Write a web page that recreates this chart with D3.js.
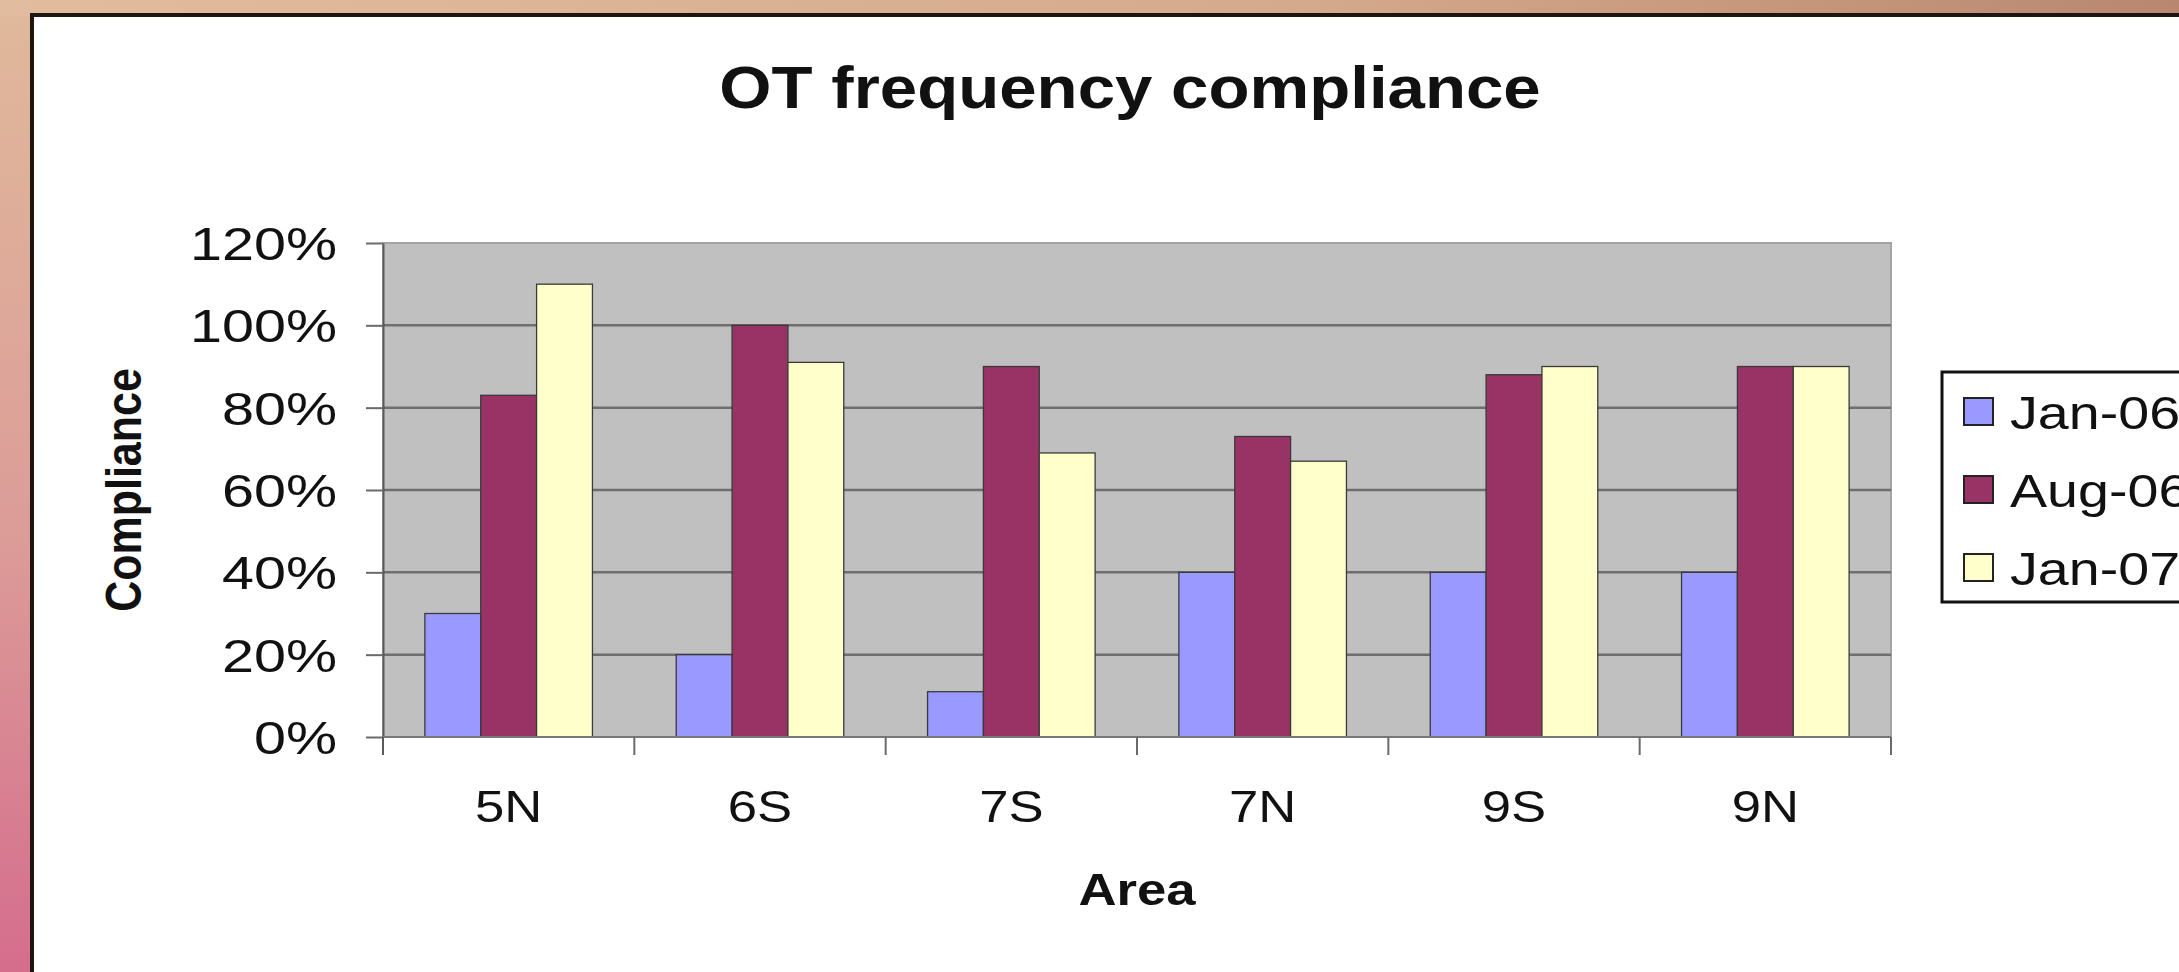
<!DOCTYPE html>
<html>
<head>
<meta charset="utf-8">
<script src="https://cdn.jsdelivr.net/npm/d3@7"></script>
<style>
    body { margin: 0; background: #fff; }
    svg { display: block; }
    text { font-family: "Liberation Sans", Arial, sans-serif; fill: #111; }
</style>
</head>
<body>
<script>

// chart data
const categories = ['5N', '6S', '7S', '7N', '9S', '9N'];
const seriesNames = ['Jan-06', 'Aug-06', 'Jan-07'];
const jan06 = [0.30, 0.20, 0.11, 0.40, 0.40, 0.40];
const aug06 = [0.83, 1.00, 0.90, 0.73, 0.88, 0.90];
const jan07 = [1.10, 0.91, 0.69, 0.67, 0.90, 0.90];
const seriesColors = ['#9999ff', '#993366', '#ffffcc'];
const yTicks = [0, 0.2, 0.4, 0.6, 0.8, 1.0, 1.2];

const chartTitle = 'OT frequency compliance';
const xTitle = 'Area';
const yTitle = 'Compliance';

var width = 2179;
var height = 972;

// the slide picture is stretched sideways a bit, text too
const SX = 1.17;
const SX_TICK = 1.25;
const SX_LEGEND = 1.21;

var plot = { left: 383, right: 1891, top: 243, bottom: 737 };

var svg = d3.select('body').append('svg')
    .attr('width', width)
    .attr('height', height);

// slide background behind the white chart box
var defs = svg.append('defs');
var bgGrad = defs.append('linearGradient')
    .attr('id', 'bg')
    .attr('x1', 0).attr('y1', 0).attr('x2', 0).attr('y2', 1);
bgGrad.append('stop').attr('offset', '0%').attr('stop-color', '#e0b99b');
bgGrad.append('stop').attr('offset', '55%').attr('stop-color', '#dc9c98');
bgGrad.append('stop').attr('offset', '100%').attr('stop-color', '#d56d8d');

var topGrad = defs.append('linearGradient')
    .attr('id', 'topbg')
    .attr('x1', 0).attr('y1', 0).attr('x2', 1).attr('y2', 0);
topGrad.append('stop').attr('offset', '0%').attr('stop-color', '#e2bc9f');
topGrad.append('stop').attr('offset', '60%').attr('stop-color', '#d5a98c');
topGrad.append('stop').attr('offset', '100%').attr('stop-color', '#b98770');

svg.append('rect').attr('width', width).attr('height', height).attr('fill', 'url(#bg)');
svg.append('rect').attr('width', width).attr('height', 16).attr('fill', 'url(#topbg)');

// white chart box, only left and top edge visible
svg.append('rect')
    .attr('x', 32).attr('y', 15)
    .attr('width', width).attr('height', height)
    .attr('fill', '#fff')
    .attr('stroke', '#1e1410')
    .attr('stroke-width', 4);

// scales
var x = d3.scaleBand()
    .domain(categories)
    .range([plot.left, plot.right])
    .paddingInner(1.5 / 4.5)
    .paddingOuter(0.75 / 4.5);

var xSeries = d3.scaleBand()
    .domain(seriesNames)
    .range([0, x.bandwidth()]);

var y = d3.scaleLinear()
    .domain([0, 1.2])
    .range([plot.bottom, plot.top]);

// plot area
svg.append('rect')
    .attr('x', plot.left).attr('y', plot.top)
    .attr('width', plot.right - plot.left)
    .attr('height', plot.bottom - plot.top)
    .attr('fill', '#c0c0c0')
    .attr('stroke', '#a4a4a4')
    .attr('stroke-width', 2);

// gridlines
svg.append('g')
    .selectAll('line')
    .data(yTicks.filter(d => d > 0 && d < 1.2))
    .enter().append('line')
    .attr('x1', plot.left).attr('x2', plot.right)
    .attr('y1', d => y(d)).attr('y2', d => y(d))
    .attr('stroke', '#6e6e6e')
    .attr('stroke-width', 2.5);

// bars
var seriesValues = [jan06, aug06, jan07];
var groups = svg.append('g')
    .selectAll('g')
    .data(categories)
    .enter().append('g')
    .attr('transform', d => 'translate(' + x(d) + ',0)');

groups.selectAll('rect')
    .data((d, i) => seriesNames.map((s, k) => ({ name: s, value: seriesValues[k][i], k: k })))
    .enter().append('rect')
    .attr('x', d => xSeries(d.name))
    .attr('width', xSeries.bandwidth())
    .attr('y', d => y(d.value))
    .attr('height', d => y(0) - y(d.value))
    .attr('fill', d => seriesColors[d.k])
    .attr('stroke', '#3a3a3a')
    .attr('stroke-width', 1.3);

// y axis
var yAxis = svg.append('g')
    .attr('transform', 'translate(' + plot.left + ',0)')
    .call(d3.axisLeft(y).tickValues(yTicks).tickFormat(d3.format('.0%')).tickSize(17).tickSizeOuter(0));

yAxis.select('.domain').attr('stroke', '#5a5a5a').attr('stroke-width', 2);
yAxis.selectAll('.tick line').attr('stroke', '#6a6a6a').attr('stroke-width', 2);
yAxis.selectAll('.tick text')
    .attr('x', null)
    .attr('dy', '0.36em')
    .attr('text-anchor', 'end')
    .attr('transform', 'translate(-46,0) scale(' + SX_TICK + ',1)')
    .style('font-size', '46px')
    .style('fill', '#111');

// x axis line and boundary ticks
svg.append('line')
    .attr('x1', plot.left).attr('x2', plot.right)
    .attr('y1', plot.bottom).attr('y2', plot.bottom)
    .attr('stroke', '#777')
    .attr('stroke-width', 2);

svg.append('line')
    .attr('x1', plot.left).attr('x2', plot.left)
    .attr('y1', plot.bottom).attr('y2', plot.bottom + 18)
    .attr('stroke', '#5a5a5a')
    .attr('stroke-width', 2);

svg.append('g')
    .selectAll('line')
    .data(categories)
    .enter().append('line')
    .attr('x1', d => x(d) + x.bandwidth() + x.step() * x.paddingInner() / 2)
    .attr('x2', d => x(d) + x.bandwidth() + x.step() * x.paddingInner() / 2)
    .attr('y1', plot.bottom).attr('y2', plot.bottom + 18)
    .attr('stroke', '#6a6a6a')
    .attr('stroke-width', 2);

var xAxis = svg.append('g')
    .attr('transform', 'translate(0,' + plot.bottom + ')')
    .call(d3.axisBottom(x).tickSize(0).tickSizeOuter(0));

xAxis.select('.domain').remove();
xAxis.selectAll('.tick text')
    .attr('y', null)
    .attr('dy', null)
    .attr('transform', 'translate(0,85) scale(' + SX + ',1)')
    .style('font-size', '45px')
    .style('fill', '#111');

// titles
svg.append('text')
    .attr('transform', 'translate(1130,108) scale(1.12,1)')
    .attr('text-anchor', 'middle')
    .style('font-size', '60px')
    .style('font-weight', 'bold')
    .text(chartTitle);

svg.append('text')
    .attr('transform', 'translate(' + ((plot.left + plot.right) / 2) + ',905) scale(' + SX + ',1)')
    .attr('text-anchor', 'middle')
    .style('font-size', '45px')
    .style('font-weight', 'bold')
    .text(xTitle);

svg.append('text')
    .attr('transform', 'translate(141,' + ((plot.top + plot.bottom) / 2) + ') scale(' + SX + ',1) rotate(-90)')
    .attr('text-anchor', 'middle')
    .style('font-size', '43px')
    .style('font-weight', 'bold')
    .text(yTitle);

// legend, runs off the right edge like on the slide
var legend = svg.append('g').attr('transform', 'translate(1942,372)');

legend.append('rect')
    .attr('width', 400).attr('height', 230)
    .attr('fill', '#fff')
    .attr('stroke', '#111')
    .attr('stroke-width', 3);

var items = legend.selectAll('.item')
    .data(seriesNames)
    .enter().append('g')
    .attr('class', 'item')
    .attr('transform', (d, i) => 'translate(0,' + (40 + i * 78) + ')');

items.append('rect')
    .attr('x', 22).attr('y', -14)
    .attr('width', 29).attr('height', 27)
    .attr('fill', (d, i) => seriesColors[i])
    .attr('stroke', '#222')
    .attr('stroke-width', 2);

items.append('text')
    .attr('transform', 'translate(68,0) scale(' + SX_LEGEND + ',1)')
    .attr('dy', '0.36em')
    .style('font-size', '46px')
    .text(d => d);

</script>
</body>
</html>
